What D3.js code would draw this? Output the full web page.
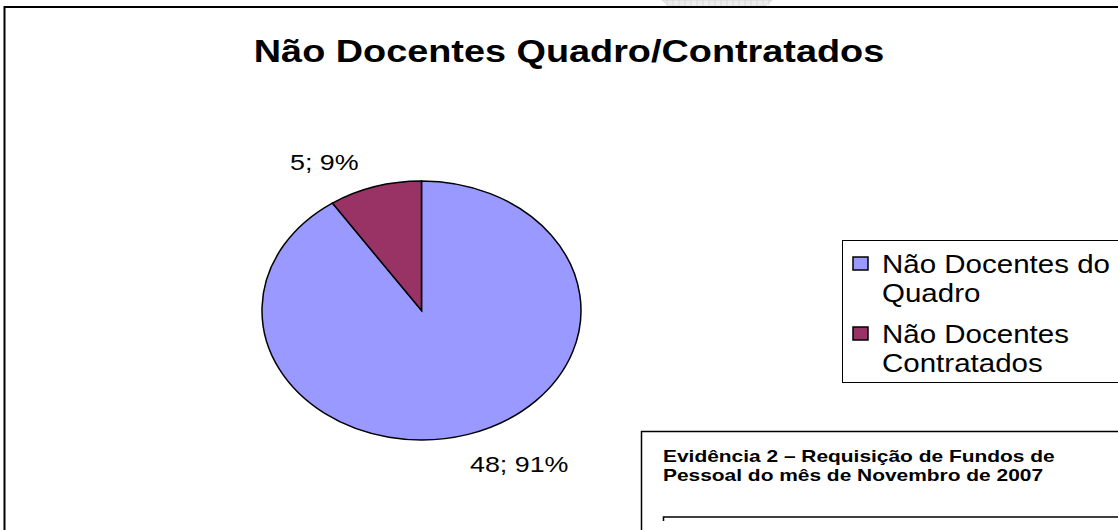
<!DOCTYPE html>
<html>
<head>
<meta charset="utf-8">
<script src="https://cdn.jsdelivr.net/npm/d3@7"></script>
<style>
  body { margin: 0; background: #fff; }
  svg { display: block; font-family: "Liberation Sans", Arial, sans-serif; }
</style>
</head>
<body>
<svg></svg>
<script>
// Data
const categories = ["Não Docentes do Quadro", "Não Docentes Contratados"];
const values = [48, 5];
const percents = ["91%", "9%"];
const legendLines = [["Não Docentes do", "Quadro"], ["Não Docentes", "Contratados"]];
const colors = ["#9999ff", "#993366"];

let width = 1118, height = 530;

let svg = d3.select('svg')
    .attr('width', width)
    .attr('height', height);

// widen a text element horizontally (the scanned chart's text is wide)
function widen(sel, k) {
    sel.each(function() {
        let len = this.getComputedTextLength();
        d3.select(this)
            .attr('textLength', len * k)
            .attr('lengthAdjust', 'spacingAndGlyphs');
    });
}

// faint grey shape at the top edge (part of the scanned page)
let topShape = svg.append('g');
topShape.append('path')
    .attr('d', 'M662,0 L772,0 L765,6 Q717,9 669,6 Z')
    .attr('fill', '#ececec')
    .attr('stroke', '#d8d8d8');
d3.range(667, 771, 6).forEach(x => {
    topShape.append('line')
        .attr('x1', x).attr('x2', x)
        .attr('y1', 0).attr('y2', 6)
        .attr('stroke', '#d0d0d0').attr('stroke-width', 0.6);
});

// chart border (top and left)
svg.append('path')
    .attr('d', 'M4.5,530 L4.5,7 L1118,7')
    .attr('fill', 'none')
    .attr('stroke', '#000')
    .attr('stroke-width', 2);

// title
let title = svg.append('text')
    .attr('x', 569)
    .attr('y', 62)
    .attr('text-anchor', 'middle')
    .style('font-size', '31px')
    .style('font-weight', 'bold')
    .text('Não Docentes Quadro/Contratados');
widen(title, 1.22);

// pie, drawn as an ellipse
let cx = 421.5, cy = 310.5, rx = 159.5, ry = 129.5;

let pie = d3.pie().sort(null).value(d => d);
let arcs = pie(values);
let arc = d3.arc().innerRadius(0).outerRadius(rx);

let pieG = svg.append('g')
    .attr('transform', `translate(${cx},${cy}) scale(1,${ry / rx})`);

pieG.selectAll('path')
    .data(arcs)
    .enter()
    .append('path')
    .attr('d', arc)
    .attr('fill', (d, i) => colors[i])
    .attr('stroke', '#000')
    .attr('stroke-width', 1.5)
    .attr('vector-effect', 'non-scaling-stroke');

// data labels
let labelPos = [[470, 472], [290, 170]];
let dlabels = svg.selectAll('.dlabel')
    .data(arcs)
    .enter()
    .append('text')
    .attr('class', 'dlabel')
    .attr('x', (d, i) => labelPos[i][0])
    .attr('y', (d, i) => labelPos[i][1])
    .style('font-size', '22px')
    .text((d, i) => `${values[i]}; ${percents[i]}`);
widen(dlabels, 1.22);

// legend
svg.append('rect')
    .attr('x', 842.5)
    .attr('y', 240.5)
    .attr('width', 290)
    .attr('height', 142)
    .attr('fill', '#fff')
    .attr('stroke', '#000')
    .attr('stroke-width', 1);

let legendY = [257, 327];
let legend = svg.selectAll('.legend')
    .data(categories)
    .enter()
    .append('g')
    .attr('class', 'legend')
    .attr('transform', (d, i) => `translate(853,${legendY[i]})`);

legend.append('rect')
    .attr('width', 15)
    .attr('height', 13)
    .attr('fill', (d, i) => colors[i])
    .attr('stroke', '#000')
    .attr('stroke-width', 1.5);

legend.each(function(d, i) {
    legendLines[i].forEach((line, j) => {
        let t = d3.select(this).append('text')
            .attr('x', 29)
            .attr('y', 16 + j * 29)
            .style('font-size', '25px')
            .text(line);
        widen(t, 1.18);
    });
});

// evidence box
svg.append('path')
    .attr('d', 'M641.5,530 L641.5,431.5 L1118,431.5')
    .attr('fill', 'none')
    .attr('stroke', '#000')
    .attr('stroke-width', 1.5);

['Evidência 2 – Requisição de Fundos de', 'Pessoal do mês de Novembro de 2007'].forEach((line, j) => {
    let t = svg.append('text')
        .attr('x', 663)
        .attr('y', 462 + j * 19)
        .style('font-size', '17px')
        .style('font-weight', 'bold')
        .text(line);
    widen(t, 1.23);
});

svg.append('path')
    .attr('d', 'M663.5,521 L663.5,517 L1118,517')
    .attr('fill', 'none')
    .attr('stroke', '#000')
    .attr('stroke-width', 1.5);
</script>
</body>
</html>
